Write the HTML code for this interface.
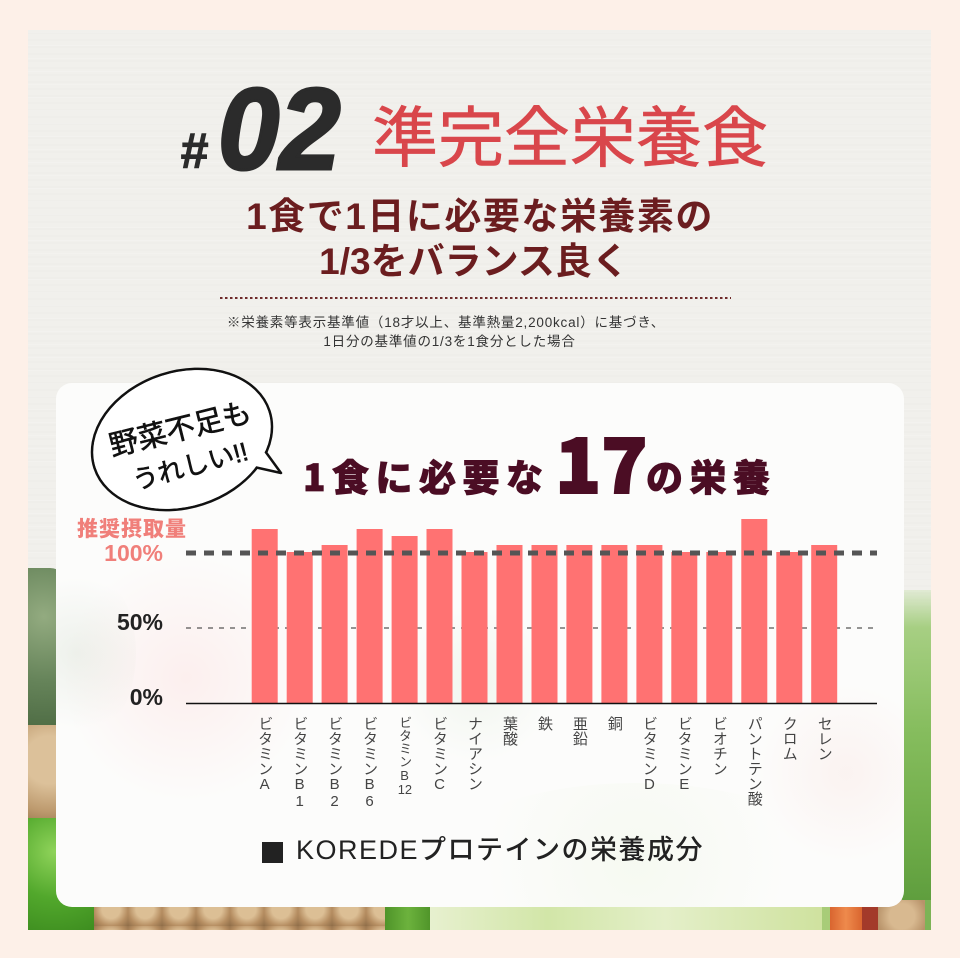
<!DOCTYPE html>
<html><head><meta charset="utf-8">
<style>
*{margin:0;padding:0;box-sizing:border-box}
html,body{width:960px;height:958px;overflow:hidden;background:#fdf0e8}
.a{position:absolute;white-space:nowrap}
.jp{font-family:"Liberation Sans","Noto Sans CJK JP",sans-serif}
.nj{font-family:"Noto Sans CJK JP","Liberation Sans",sans-serif}
.xl{position:absolute;top:716px;width:15px;font-size:15px;line-height:15px;writing-mode:vertical-rl;text-orientation:upright;color:#444;font-family:"Liberation Sans","Noto Sans CJK JP",sans-serif;white-space:nowrap}
.tcy{text-combine-upright:all}
</style></head><body>

<!-- main panel with wood texture + vegetables -->
<div class="a" style="left:28px;top:30px;width:903px;height:900px;overflow:hidden;background:#f1f0ec;background-image:repeating-linear-gradient(0deg,rgba(0,0,0,0.006) 0 2px,rgba(255,255,255,0) 2px 7px),repeating-linear-gradient(0deg,rgba(255,255,255,0.14) 0 1px,rgba(255,255,255,0) 1px 13px)">
  <!-- left broccoli -->
  <div class="a" style="left:0;top:538px;width:40px;height:162px;border-radius:0 18px 10px 0;background:radial-gradient(circle at 40% 30%,#93ab80 0%,#66845a 55%,#4d6b43 100%)"></div>
  <!-- left mushrooms -->
  <div class="a" style="left:0;top:695px;width:42px;height:100px;background:radial-gradient(circle at 50% 35%,#dcc19a 0 35%,#bd9a6e 75%,#9c7a52 100%)"></div>
  <!-- green pepper -->
  <div class="a" style="left:0;top:788px;width:75px;height:112px;border-radius:0 30px 0 0;background:radial-gradient(circle at 35% 30%,#8fd35a 0%,#52a82c 50%,#3b8a1e 100%)"></div>
  <!-- bottom mushrooms -->
  <div class="a" style="left:66px;top:866px;width:292px;height:34px;background-color:#c39d72;background-image:radial-gradient(circle at 50% 45%,#dcbf95 0 38%,#b68e62 70%,#8f6d48 100%);background-size:34px 30px"></div>
  <!-- green stalks -->
  <div class="a" style="left:357px;top:866px;width:46px;height:34px;background:linear-gradient(90deg,#4f9429,#6cb23d,#4f9429)"></div>
  <!-- lettuce -->
  <div class="a" style="left:402px;top:866px;width:392px;height:34px;background:linear-gradient(90deg,#e7f0cf,#d2e6a8 30%,#e4efc9 60%,#cfe29f 100%)"></div>
  <div class="a" style="left:794px;top:866px;width:10px;height:34px;background:#a8cc78"></div>
  <!-- carrot -->
  <div class="a" style="left:802px;top:866px;width:32px;height:34px;background:linear-gradient(90deg,#d9652f,#ee8a4c,#d9652f)"></div>
  <div class="a" style="left:834px;top:866px;width:16px;height:34px;background:#a33a2a"></div>
  <!-- mushroom right -->
  <div class="a" style="left:850px;top:866px;width:48px;height:34px;background:radial-gradient(circle at 50% 60%,#d8b990 0 40%,#b8936a 80%)"></div>
  <div class="a" style="left:897px;top:866px;width:6px;height:34px;background:#7db356"></div>
  <!-- right leaves -->
  <div class="a" style="left:874px;top:560px;width:29px;height:310px;background:linear-gradient(180deg,rgba(200,225,175,0.4) 0%,#a7cf83 12%,#86bd5e 45%,#6eab48 80%,#5f9e3e 100%)"></div>
</div>

<!-- white card -->
<div class="a" style="left:56px;top:383px;width:848px;height:524px;border-radius:16px;background:#fcfcfb;overflow:hidden">
  <div class="a" style="left:10px;top:165px;width:240px;height:260px;border-radius:50%;background:radial-gradient(circle,rgba(250,170,170,0.16),rgba(250,170,170,0) 70%)"></div>
  <div class="a" style="left:-40px;top:180px;width:120px;height:180px;border-radius:50%;background:radial-gradient(circle,rgba(150,175,140,0.14),rgba(150,175,140,0) 70%)"></div>
  <div class="a" style="left:340px;top:220px;width:160px;height:160px;border-radius:50%;background:radial-gradient(circle,rgba(185,215,175,0.16),rgba(185,215,175,0) 70%)"></div>
  <div class="a" style="left:700px;top:300px;width:180px;height:180px;border-radius:50%;background:radial-gradient(circle,rgba(240,175,165,0.12),rgba(240,175,165,0) 70%)"></div>
  <div class="a" style="left:380px;top:400px;width:400px;height:160px;border-radius:50%;background:radial-gradient(circle,rgba(215,235,190,0.16),rgba(215,235,190,0) 70%)"></div>
</div>

<!-- header -->
<div class="a" style="left:180px;top:126px;font-family:'Liberation Sans',sans-serif;font-weight:bold;font-style:italic;font-size:50px;line-height:50px;color:#2b2b2b;-webkit-text-stroke:1px #2b2b2b">#</div>
<div class="a" style="left:218px;top:71px;font-family:'Liberation Sans',sans-serif;font-weight:bold;font-style:italic;font-size:116px;line-height:116px;color:#2b2b2b;-webkit-text-stroke:3px #2b2b2b;transform:scaleX(0.95);transform-origin:0 0">02</div>
<div class="a nj" style="left:372px;top:100px;font-size:66px;line-height:66px;font-weight:400;color:#d9464b;-webkit-text-stroke:0.6px #d9464b">準完全栄養食</div>

<div class="a jp" style="left:0;width:960px;text-align:center;top:198px;font-size:37px;line-height:37px;font-weight:700;color:#6b1d1f;letter-spacing:1.5px">1食で1日に必要な栄養素の</div>
<div class="a jp" style="left:0;width:948px;text-align:center;top:243px;font-size:37px;line-height:37px;font-weight:700;color:#6b1d1f">1/3をバランス良く</div>

<svg class="a" style="left:0;top:0" width="960" height="958">
  <line x1="220" y1="298" x2="731" y2="298" stroke="#6e2a2a" stroke-width="2" stroke-dasharray="2.5 2.5"/>
</svg>

<div class="a jp" style="left:0;width:892px;text-align:center;top:316px;font-size:13.5px;line-height:14px;color:#333;letter-spacing:0.8px">※栄養素等表示基準値（18才以上、基準熱量2,200kcal）に基づき、</div>
<div class="a jp" style="left:0;width:899px;text-align:center;top:335px;font-size:13.5px;line-height:14px;color:#333;letter-spacing:0.8px">1日分の基準値の1/3を1食分とした場合</div>

<!-- chart title -->
<div class="a nj" style="left:303px;top:457px;font-size:37px;line-height:37px;font-weight:900;color:#4b0d24;letter-spacing:6.5px;-webkit-text-stroke:0.8px #4b0d24">1食に必要な</div>
<div class="a nj" style="left:555px;top:422px;font-size:76px;line-height:76px;font-weight:900;color:#4b0d24;-webkit-text-stroke:2px #4b0d24">17</div>
<div class="a nj" style="left:646px;top:457px;font-size:37px;line-height:37px;font-weight:900;color:#4b0d24;letter-spacing:6.5px;-webkit-text-stroke:0.8px #4b0d24">の栄養</div>

<!-- chart svg -->
<svg class="a" style="left:0;top:0" width="960" height="958">
  <!-- speech bubble -->
  <ellipse cx="182" cy="439.5" rx="92" ry="68" transform="rotate(-18 182 439.5)" fill="#fff" stroke="#111" stroke-width="2.5"/>
  <path d="M265 451 L281 473 L254 467" fill="#fff" stroke="#111" stroke-width="2.5" stroke-linejoin="round"/>
  <ellipse cx="182" cy="439.5" rx="90.6" ry="66.6" transform="rotate(-18 182 439.5)" fill="#fff"/>
  <text x="180" y="439" text-anchor="middle" transform="rotate(-14 180 428)" font-family="Liberation Sans, Noto Sans CJK JP, sans-serif" font-size="29" fill="#111" stroke="#111" stroke-width="0.6">野菜不足も</text>
  <text x="190" y="475" text-anchor="middle" transform="rotate(-15 190 465)" font-family="Liberation Sans, Noto Sans CJK JP, sans-serif" font-size="26" fill="#111" stroke="#111" stroke-width="0.6">うれしい!!</text>

  <!-- 50% line -->
  <line x1="186" y1="628" x2="877" y2="628" stroke="#555" stroke-width="1.3" stroke-dasharray="5 6"/>
  <!-- bars -->
  <g fill="#ff7272">
    <rect x="251.7" y="529" width="26" height="174"/>
    <rect x="286.7" y="552" width="26" height="151"/>
    <rect x="321.6" y="545" width="26" height="158"/>
    <rect x="356.6" y="529" width="26" height="174"/>
    <rect x="391.6" y="536" width="26" height="167"/>
    <rect x="426.5" y="529" width="26" height="174"/>
    <rect x="461.5" y="552" width="26" height="151"/>
    <rect x="496.5" y="545" width="26" height="158"/>
    <rect x="531.5" y="545" width="26" height="158"/>
    <rect x="566.4" y="545" width="26" height="158"/>
    <rect x="601.4" y="545" width="26" height="158"/>
    <rect x="636.4" y="545" width="26" height="158"/>
    <rect x="671.3" y="552" width="26" height="151"/>
    <rect x="706.3" y="552" width="26" height="151"/>
    <rect x="741.3" y="519" width="26" height="184"/>
    <rect x="776.3" y="552" width="26" height="151"/>
    <rect x="811.2" y="545" width="26" height="158"/>
  </g>
  <!-- 100% line -->
  <line x1="186" y1="553" x2="877" y2="553" stroke="#555" stroke-width="5" stroke-dasharray="10 8"/>
  <!-- axis -->
  <line x1="186" y1="703.5" x2="877" y2="703.5" stroke="#111" stroke-width="1.6"/>
</svg>

<!-- y labels -->
<div class="a jp" style="left:77px;top:519px;font-size:21px;line-height:21px;font-weight:900;color:#f07f7a;letter-spacing:1px">推奨摂取量</div>
<div class="a" style="left:60px;width:103px;text-align:right;top:542px;font-family:'Liberation Sans',sans-serif;font-weight:bold;font-size:23px;line-height:23px;color:#f07f7a">100%</div>
<div class="a" style="left:60px;width:103px;text-align:right;top:611px;font-family:'Liberation Sans',sans-serif;font-weight:bold;font-size:23px;line-height:23px;color:#222">50%</div>
<div class="a" style="left:60px;width:103px;text-align:right;top:686px;font-family:'Liberation Sans',sans-serif;font-weight:bold;font-size:23px;line-height:23px;color:#222">0%</div>

<!-- x labels -->
<div class="xl" style="left:257.2px">ビタミンA</div>
<div class="xl" style="left:292.2px">ビタミンB1</div>
<div class="xl" style="left:327.1px">ビタミンB2</div>
<div class="xl" style="left:362.1px">ビタミンB6</div>
<div class="xl" style="left:398.1px;font-size:13px;line-height:13px;width:13px">ビタミンB<span class="tcy">12</span></div>
<div class="xl" style="left:432px">ビタミンC</div>
<div class="xl" style="left:467px">ナイアシン</div>
<div class="xl" style="left:502px">葉酸</div>
<div class="xl" style="left:537px">鉄</div>
<div class="xl" style="left:571.9px">亜鉛</div>
<div class="xl" style="left:606.9px">銅</div>
<div class="xl" style="left:641.9px">ビタミンD</div>
<div class="xl" style="left:676.8px">ビタミンE</div>
<div class="xl" style="left:711.8px">ビオチン</div>
<div class="xl" style="left:746.8px">パントテン酸</div>
<div class="xl" style="left:781.8px">クロム</div>
<div class="xl" style="left:816.7px">セレン</div>

<!-- legend -->
<div class="a" style="left:262px;top:842px;width:21px;height:21px;background:#222"></div>
<div class="a jp" style="left:296px;top:837px;font-size:27px;line-height:27px;font-weight:500;color:#222;letter-spacing:1.5px">KOREDEプロテインの栄養成分</div>

</body></html>
